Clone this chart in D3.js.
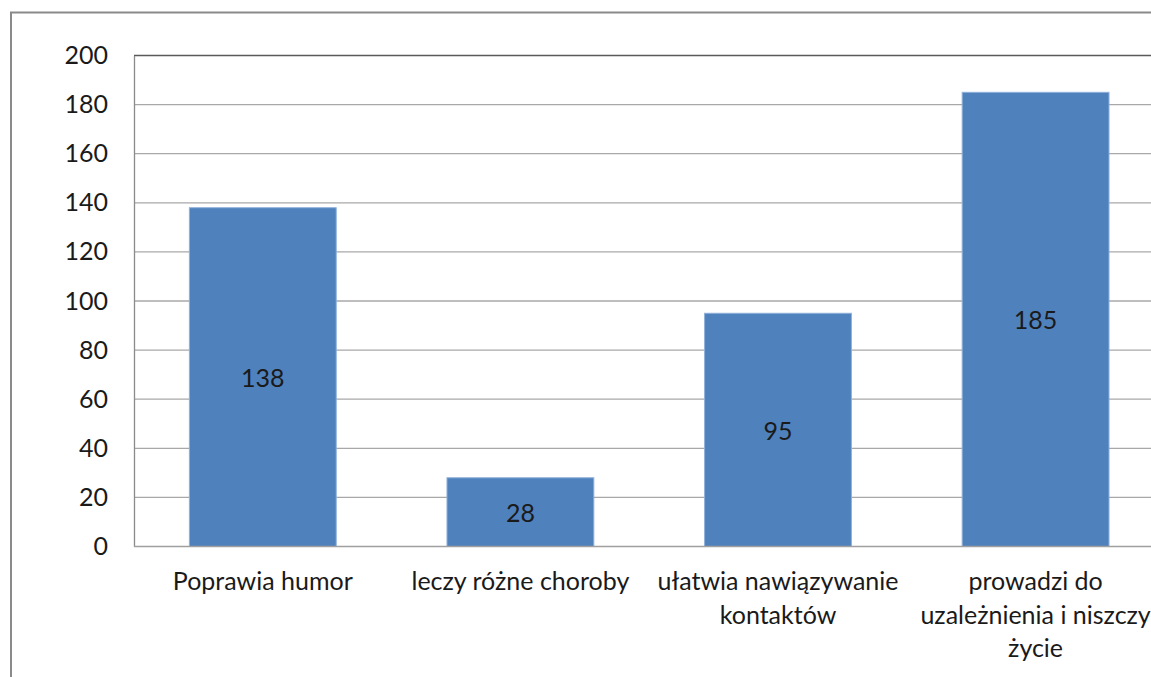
<!DOCTYPE html>
<html>
<head>
<meta charset="utf-8">
<script src="https://cdn.jsdelivr.net/npm/d3@7/dist/d3.min.js"></script>
<style>
  html, body { margin: 0; padding: 0; background: #fff; }
  svg { display: block; }
  text { font-family: Lato, "Open Sans", sans-serif; fill: #1a1a1a; }
</style>
</head>
<body>
<script>
// Survey answers and their counts
const categories = [
  "Poprawia humor",
  "leczy różne choroby",
  "ułatwia nawiązywanie kontaktów",
  "prowadzi do uzależnienia i niszczy życie"
];
const values = [138, 28, 95, 185];
const yTicks = [0, 20, 40, 60, 80, 100, 120, 140, 160, 180, 200];

const W = 1151, H = 677;
const plot = { left: 134, top: 55.5, bottom: 546.5, step: 257.6 };
const fontSize = 25;

const svg = d3.select("body").append("svg")
  .attr("width", W).attr("height", H);

// Outer chart frame (runs off the right and bottom edges)
svg.append("path")
  .attr("d", `M11,${H + 5} V12.5 H${W + 5}`)
  .attr("fill", "none")
  .attr("stroke", "#8a8a8a")
  .attr("stroke-width", 2);

const x = d3.scaleBand()
  .domain(categories)
  .range([plot.left, plot.left + plot.step * categories.length])
  .paddingInner(0.43)
  .paddingOuter(0.215);

const y = d3.scaleLinear()
  .domain([0, 200])
  .range([plot.bottom, plot.top]);

// Horizontal gridlines
svg.append("g")
  .selectAll("line")
  .data(yTicks.filter(t => t > 0))
  .join("line")
  .attr("x1", plot.left).attr("x2", W)
  .attr("y1", d => y(d)).attr("y2", d => y(d))
  .attr("stroke", d => d === 200 ? "#5a5a5a" : "#a8a8a8")
  .attr("stroke-width", 1.3);

// Y axis with labels
const yAxis = svg.append("g")
  .attr("transform", `translate(${plot.left},0)`)
  .call(d3.axisLeft(y).tickValues(yTicks).tickSize(0).tickPadding(26));
yAxis.select(".domain").attr("stroke", "#8a8a8a").attr("stroke-width", 1.3);
yAxis.selectAll("text")
  .attr("font-size", fontSize)
  .attr("font-family", "Lato, sans-serif")
  .attr("fill", "#1a1a1a");

// Bars
svg.append("g")
  .selectAll("rect")
  .data(values)
  .join("rect")
  .attr("x", (d, i) => x(categories[i]))
  .attr("y", d => y(d))
  .attr("width", x.bandwidth())
  .attr("height", d => y(0) - y(d))
  .attr("fill", "#4f81bd")
  .attr("stroke", "#8fb0da")
  .attr("stroke-width", 1);

// Value labels centred in each bar
svg.append("g")
  .selectAll("text")
  .data(values)
  .join("text")
  .attr("x", (d, i) => x(categories[i]) + x.bandwidth() / 2)
  .attr("y", d => (y(d) + y(0)) / 2)
  .attr("text-anchor", "middle")
  .attr("dominant-baseline", "central")
  .attr("font-size", fontSize)
  .text(d => d);

// Baseline
svg.append("line")
  .attr("x1", plot.left).attr("x2", W)
  .attr("y1", y(0)).attr("y2", y(0))
  .attr("stroke", "#a0a0a0")
  .attr("stroke-width", 1.3);

// Category labels, wrapped to the band width
const wrapWidth = 245;
const measure = svg.append("text").attr("font-size", fontSize).attr("visibility", "hidden");
function wrap(str) {
  const words = str.split(" ");
  const lines = [];
  let cur = "";
  for (const w of words) {
    const test = cur ? cur + " " + w : w;
    measure.text(test);
    if (cur && measure.node().getComputedTextLength() > wrapWidth) {
      lines.push(cur);
      cur = w;
    } else {
      cur = test;
    }
  }
  if (cur) lines.push(cur);
  return lines;
}

const catLabels = svg.append("g")
  .selectAll("text")
  .data(categories)
  .join("text")
  .attr("text-anchor", "middle")
  .attr("font-size", fontSize)
  .attr("x", d => x(d) + x.bandwidth() / 2)
  .attr("y", 590);
catLabels.each(function (d) {
  const t = d3.select(this);
  const cx = x(d) + x.bandwidth() / 2;
  wrap(d).forEach((line, i) => {
    t.append("tspan").attr("x", cx).attr("dy", i === 0 ? 0 : 33.5).text(line);
  });
});
measure.remove();
</script>
</body>
</html>
